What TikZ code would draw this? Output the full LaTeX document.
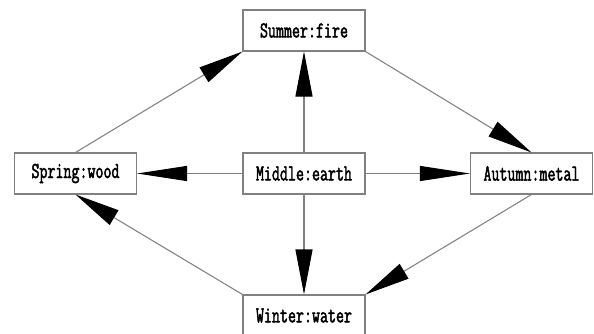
\documentclass[tikz,border=0pt]{standalone}
\usepackage{fontspec}
\newfontfamily\phasefont[FakeStretch=0.68, FakeBold=2]{Latin Modern Mono}
\usepackage{tikz}
\usetikzlibrary{arrows.meta}

\tikzset{
  phase/.style={draw=black!50, line width=0.6pt, fill=white, minimum width=2.44cm,
    minimum height=0.82cm, inner sep=0pt, font=\phasefont\fontsize{13}{15}\selectfont},
  link/.style={draw=black!50, line width=0.6pt,
    -{Triangle[length=0.9cm, width=0.34cm, black]}},
  hlink/.style={link, -{Triangle[length=1cm, width=0.3cm, black]}}
}

\begin{document}
\begin{tikzpicture}
\useasboundingbox (0,0) rectangle (11.88,6.66);
\clip (0,0) rectangle (11.88,6.66);
% Phases
\node[phase] (summer) at (6.08,6.05) {Summer:fire};
\node[phase] (spring) at (1.51,3.19) {Spring:wood};
\node[phase] (middle) at (6.08,3.19) {Middle:earth};
\node[phase] (autumn) at (10.63,3.19) {Autumn:metal};
\node[phase] (winter) at (6.08,0.35) {Winter:water};

% Outer cycle
\draw[link] (spring.north) -- (summer.south west);
\draw[link] (summer.south east) -- (autumn.north);
\draw[link] (autumn.south) -- (winter.north east);
\draw[link] (winter.north west) -- (spring.south);

% From the middle
\draw[link] (middle.north) -- (summer.south);
\draw[link] (middle.south) -- (winter.north);
\draw[hlink] (middle.west) -- (spring.east);
\draw[hlink] (middle.east) -- (autumn.west);
\end{tikzpicture}
\end{document}
